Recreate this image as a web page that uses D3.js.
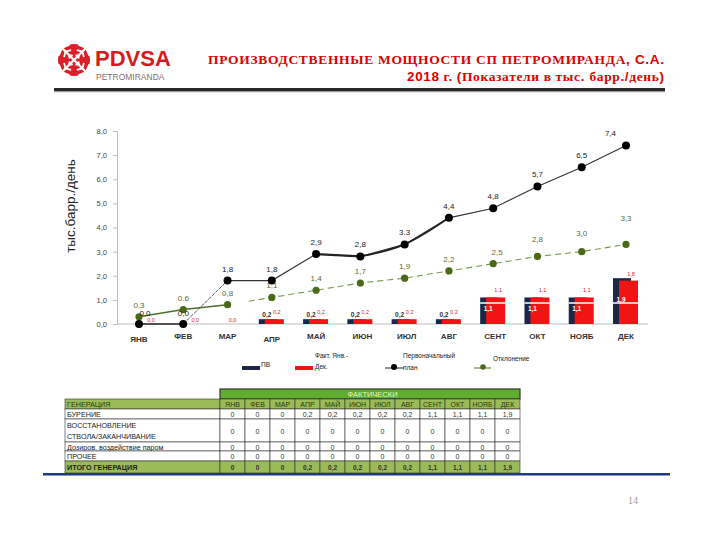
<!DOCTYPE html>
<html><head><meta charset="utf-8">
<script src="https://cdn.jsdelivr.net/npm/d3@7"></script>
<style>body{margin:0;background:#fff}svg{display:block}</style>
</head><body>
<svg id="c" width="720" height="540"></svg>
<script>
const months = ["ЯНВ","ФЕВ","МАР","АПР","МАЙ","ИЮН","ИЮЛ","АВГ","СЕНТ","ОКТ","НОЯБ","ДЕК"];
const pvValues   = [0,0,0,0.2,0.2,0.2,0.2,0.2,1.1,1.1,1.1,1.9];
const factValues = [0,0,0,0.2,0.2,0.2,0.2,0.2,1.1,1.1,1.1,1.8];
const planValues = [0,0,1.8,1.8,2.9,2.8,3.3,4.4,4.8,5.7,6.5,7.4];
const otklValues = [0.3,0.6,0.8,1.1,1.4,1.7,1.9,2.2,2.5,2.8,3.0,3.3];
const yTicks = [0,1,2,3,4,5,6,7,8];
const seriesNames = ["ПВ","Факт. Янв.-|Дек.","Первоначальный|план","Отклонение"];

const tableMonths = ["ЯНВ","ФЕВ","МАР","АПР","МАЙ","ИЮН","ИЮЛ","АВГ","СЕНТ","ОКТ","НОЯБ","ДЕК"];
const tableRowNames = ["БУРЕНИЕ","ВОССТАНОВЛЕНИЕ|СТВОЛА/ЗАКАНЧИВАНИЕ","Дозиров. воздействие паром","ПРОЧЕЕ"];
const burenie = [0,0,0,0.2,0.2,0.2,0.2,0.2,1.1,1.1,1.1,1.9];
const vosst   = [0,0,0,0,0,0,0,0,0,0,0,0];
const dozir   = [0,0,0,0,0,0,0,0,0,0,0,0];
const proch   = [0,0,0,0,0,0,0,0,0,0,0,0];
const itogo   = [0,0,0,0.2,0.2,0.2,0.2,0.2,1.1,1.1,1.1,1.9];

const svg = d3.select("#c");
const fmt = v => d3.format(".1f")(v).replace(".", ",");
const fmt0 = v => v === 0 ? "0" : String(v).replace(".", ",");
const SANS = "'Liberation Sans', Arial, sans-serif";
const SERIF = "'Liberation Serif', 'Times New Roman', 'DejaVu Serif', serif";

// ---------- header ----------
const logo = svg.append("g").attr("transform","translate(74,60)");
logo.append("circle").attr("r",16).attr("fill","#d9202a");
[45,-45,135,-135].forEach(a=>{
  const g = logo.append("g").attr("transform",`rotate(${a})`);
  [4,9,14].forEach(d=>{
    g.append("path").attr("d",`M${d},${-d*0.55} L${d+3},0 L${d},${d*0.55}`)
     .attr("fill","none").attr("stroke","#fff").attr("stroke-width",1.8);
  });
});
logo.append("path").attr("d","M-17,-17L17,17M17,-17L-17,17").attr("stroke","#fff").attr("stroke-width",2.2);
svg.append("text").attr("x",95).attr("y",66).text("PDVSA")
  .attr("font-family",SANS).attr("font-weight","bold").attr("font-size",22).attr("fill","#d71920");
svg.append("text").attr("x",96).attr("y",80).text("PETROMIRANDA")
  .attr("font-family",SANS).attr("font-size",8.5).attr("fill","#8a6a6a");

const t1 = svg.append("text").attr("x",664).attr("y",64).attr("text-anchor","end")
  .attr("font-family",SERIF).attr("font-weight","bold").attr("font-size",13.5).attr("fill","#e00000")
  .attr("textLength",456).attr("lengthAdjust","spacing");
t1.append("tspan").text("ПРОИЗВОДСТВЕННЫЕ  МОЩНОСТИ СП ПЕТРОМИРАНДА");
t1.append("tspan").attr("font-family",SANS).text(", С.А.");
const t2 = svg.append("text").attr("x",664).attr("y",81).attr("text-anchor","end")
  .attr("font-family",SERIF).attr("font-weight","bold").attr("font-size",13.5).attr("fill","#e00000")
  .attr("textLength",257).attr("lengthAdjust","spacing");
t2.append("tspan").attr("font-family",SANS).text("2018");
t2.append("tspan").text(" г. ");
t2.append("tspan").attr("font-family",SANS).text("(");
t2.append("tspan").text("Показатели в тыс");
t2.append("tspan").attr("font-family",SANS).text(". ");
t2.append("tspan").text("барр");
t2.append("tspan").attr("font-family",SANS).text("./");
t2.append("tspan").text("день");
t2.append("tspan").attr("font-family",SANS).text(")");

svg.append("rect").attr("x",54).attr("y",88).attr("width",611).attr("height",3).attr("fill","#2a2a2a");
svg.append("rect").attr("x",54).attr("y",91).attr("width",611).attr("height",1.2).attr("fill","#9a9a9a");

// ---------- chart ----------
const x = d3.scalePoint().domain(months).range([139,626]);
const y = d3.scaleLinear().domain([0,8]).range([324,131]);
const AX = "#bdbdbd";
const chart = svg.append("g");

const yAxis = d3.axisLeft(y).tickValues(yTicks).tickFormat(fmt).tickSize(4).tickPadding(6);
const yg = chart.append("g").attr("transform","translate(117,0)").call(yAxis);
yg.select(".domain").attr("stroke",AX);
yg.selectAll(".tick line").attr("stroke",AX);
yg.selectAll(".tick text").attr("font-family",SANS).attr("font-size",7.5).attr("fill","#444");

chart.append("line").attr("x1",117).attr("x2",648).attr("y1",y(0)).attr("y2",y(0)).attr("stroke",AX);
chart.selectAll(".xl").data(months).enter().append("text")
  .attr("x",d=>x(d)+ (d==="ИЮН"||d==="ИЮЛ"||d==="СЕНТ"?2:0)).attr("y",(d,i)=> (i===0||i===3)?342:339)
  .attr("text-anchor","middle").attr("font-family",SANS).attr("font-weight","bold")
  .attr("font-size",8).attr("fill","#333").text(d=>d);

svg.append("text").attr("transform","translate(75,206) rotate(-90)").attr("text-anchor","middle")
  .attr("font-family",SANS).attr("font-size",13.5).attr("fill","#222").text("тыс.барр./день");

// bars
const NAVY = "#1c2748", BRED = "#f21414";
chart.selectAll(".pv").data(pvValues).enter().append("rect")
  .attr("x",(d,i)=>x(months[i])-13).attr("width",18)
  .attr("y",d=>y(d)).attr("height",d=>y(0)-y(d)).attr("fill",NAVY);
chart.selectAll(".fa").data(factValues).enter().append("rect")
  .attr("x",(d,i)=>x(months[i])-7).attr("width",19)
  .attr("y",d=>y(d)).attr("height",d=>y(0)-y(d)).attr("fill",BRED);
chart.selectAll(".sep").data(pvValues.map((v,i)=>({v,i})).filter(d=>d.v>=1)).enter().append("line")
  .attr("x1",d=>x(months[d.i])-13).attr("x2",d=>x(months[d.i])+12)
  .attr("y1",y(0.87)).attr("y2",y(0.87)).attr("stroke","#fff").attr("stroke-width",1.5);

// bar labels
chart.selectAll(".fl").data(factValues).enter().append("text")
  .attr("x",(d,i)=>x(months[i])+ (d===0 ? (i<2?12:5) : 5)).attr("y",d=> d===0 ? y(d)-2 : y(d)-5).attr("text-anchor","middle")
  .attr("font-family",SANS).attr("font-size",5.5).attr("fill","#e02020").text(fmt);
chart.selectAll(".pl").data(pvValues).enter().append("text")
  .attr("x",(d,i)=>x(months[i])-5).attr("y",d=> d>=1 ? y(d)+ (d>1.5?24:14) : y(d)-2).attr("text-anchor","middle")
  .attr("font-family",SANS).attr("font-size",6.5).attr("font-weight","bold")
  .attr("fill",d=>d>=1?"#fff":"#333").text((d,i)=> (i<3)?"":fmt(d));

// green line (Отклонение)
const GREEN_L = "#7a9a4a", GREEN_D = "#4a6a1a";
const line = d3.line().x(d=>d[0]).y(d=>d[1]);
const gpts = otklValues.map((v,i)=>[x(months[i]), y(v)]);
chart.append("path").attr("d",line(gpts.slice(0,3))).attr("fill","none").attr("stroke","#4f6f2a").attr("stroke-width",1.6);
const mid = [gpts[2][0]+(gpts[3][0]-gpts[2][0])*0.48, gpts[2][1]+(gpts[3][1]-gpts[2][1])*0.48];
chart.append("path").attr("d",line([mid].concat(gpts.slice(3)))).attr("fill","none")
  .attr("stroke",GREEN_L).attr("stroke-width",1.1).attr("stroke-dasharray","6,4");

// black line (план)
const bpts = planValues.map((v,i)=>[x(months[i]), y(v)]);
chart.append("path").attr("d",line(bpts.slice(0,2))).attr("fill","none").attr("stroke","#222").attr("stroke-width",1.6);
chart.append("path").attr("d",line(bpts.slice(1,3))).attr("fill","none").attr("stroke","#444").attr("stroke-width",0.9).attr("stroke-dasharray","4,1");
chart.append("path").attr("d",line(bpts.slice(2))).attr("fill","none").attr("stroke","#333").attr("stroke-width",1.1);
chart.append("path").attr("d",line(bpts.slice(4,6))).attr("fill","none").attr("stroke","#222").attr("stroke-width",2.2);
chart.append("path").attr("d",d3.line().curve(d3.curveMonotoneX).x(d=>d[0]).y(d=>d[1])(bpts.slice(5,8))).attr("fill","none").attr("stroke","#222").attr("stroke-width",1.8);

chart.selectAll(".gd").data(gpts).enter().append("circle")
  .attr("cx",d=>d[0]).attr("cy",d=>d[1]).attr("r",3.6).attr("fill",GREEN_D);
chart.selectAll(".bd").data(bpts).enter().append("circle")
  .attr("cx",d=>d[0]).attr("cy",d=>d[1]).attr("r",4).attr("fill","#000");

// line labels
chart.selectAll(".gl").data(otklValues).enter().append("text")
  .attr("x",(d,i)=>x(months[i]) + (i===8?4:0))
  .attr("y",(d,i)=> y(d) - (i<9?9:(i===9?14:(i===10?16:23))))
  .attr("text-anchor","middle").attr("font-family",SANS).attr("font-size",8)
  .attr("fill","#5a6a3a").text((d,i)=> i===1 ? "0.6" : fmt(d));
chart.selectAll(".bl").data(planValues).enter().append("text")
  .attr("x",(d,i)=> i===11 ? x(months[i])-10 : x(months[i]) + (i===0?6:0))
  .attr("y",(d,i)=> y(d) - (i<2?8:9))
  .attr("text-anchor",(d,i)=> i===11?"end":"middle").attr("font-family",SANS).attr("font-size",8)
  .attr("fill","#222").text((d,i)=> i===6 ? "3.3" : fmt(d));

// legend
const lg = svg.append("g").attr("font-family",SANS).attr("font-size",6.5).attr("fill","#222");
lg.append("rect").attr("x",242).attr("y",366).attr("width",18).attr("height",4).attr("fill",NAVY);
lg.append("text").attr("x",261).attr("y",367).text(seriesNames[0]);
lg.append("rect").attr("x",295).attr("y",366).attr("width",18).attr("height",4).attr("fill",BRED);
seriesNames[1].split("|").forEach((s,k)=>lg.append("text").attr("x",315).attr("y",358+k*11).text(s));
lg.append("line").attr("x1",385).attr("x2",404).attr("y1",368).attr("y2",368).attr("stroke","#222");
lg.append("circle").attr("cx",394).attr("cy",367).attr("r",3).attr("fill","#000");
seriesNames[2].split("|").forEach((s,k)=>lg.append("text").attr("x",403).attr("y",358+k*12).text(s));
lg.append("line").attr("x1",474).attr("x2",491).attr("y1",368).attr("y2",368).attr("stroke","#4f6f2a");
lg.append("circle").attr("cx",483).attr("cy",367).attr("r",2.8).attr("fill",GREEN_D);
lg.append("text").attr("x",493).attr("y",361).text(seriesNames[3]);

// ---------- table ----------
const tb = svg.append("g").attr("font-family",SANS);
const col0 = 65, col1 = 220, colW = 25;
const colX = d3.scaleBand().domain(tableMonths).range([col1, col1+colW*12]);
const LG = "#9bbb59", DG = "#5fae2e", BORDER = "#333";
svg.append("rect").attr("x",43).attr("y",473).attr("width",627).attr("height",2.5).attr("fill","#1f3a78");
tb.append("rect").attr("x",col1).attr("y",389).attr("width",colW*12).attr("height",10).attr("fill",DG).attr("stroke",BORDER).attr("stroke-width",1.2);
tb.append("text").attr("x",col1+colW*6.1).attr("y",397).attr("text-anchor","middle").attr("font-size",7.5).attr("fill","#e6f2d0").text("ФАКТИЧЕСКИ");
const rowsY = [399,409,419,442,451,461,473];
const rowData = [null, burenie, vosst, dozir, proch, itogo];
const rowLabels = ["ГЕНЕРАЦИЯ"].concat(tableRowNames).concat(["ИТОГО ГЕНЕРАЦИЯ"]);
rowLabels.forEach((lab,r)=>{
  const y0 = rowsY[r], h = rowsY[r+1]-rowsY[r];
  const fill = (r===0||r===5) ? LG : "#fff";
  tb.append("rect").attr("x",col0).attr("y",y0).attr("width",col1-col0).attr("height",h).attr("fill",fill).attr("stroke",BORDER).attr("stroke-width",0.6);
  const parts = lab.split("|");
  parts.forEach((p,k)=> tb.append("text").attr("x",col0+2).attr("y",y0+ (parts.length>1? 9+k*11 : h/2+3))
    .attr("font-size",7.2).attr("font-weight",r===5?"bold":"normal").attr("fill",r===0?"#2a3a10":"#222").text(p));
  tableMonths.forEach((m,j)=>{
    tb.append("rect").attr("x",colX(m)).attr("y",y0).attr("width",colX.bandwidth()).attr("height",h).attr("fill",fill).attr("stroke",BORDER).attr("stroke-width",0.6);
    const txt = r===0 ? m : fmt0(rowData[r][j]);
    tb.append("text").attr("x",colX(m)+colX.bandwidth()/2).attr("y",y0+h/2+3).attr("text-anchor","middle")
      .attr("font-size",r===5?6.5:7).attr("font-weight",r===5?"bold":"normal").attr("fill",r===0?"#2a3a10":"#333").text(txt);
  });
});

svg.append("text").attr("x",628).attr("y",504).attr("font-family",SERIF).attr("font-size",10).attr("fill","#999").text("14");
</script>
</body></html>
